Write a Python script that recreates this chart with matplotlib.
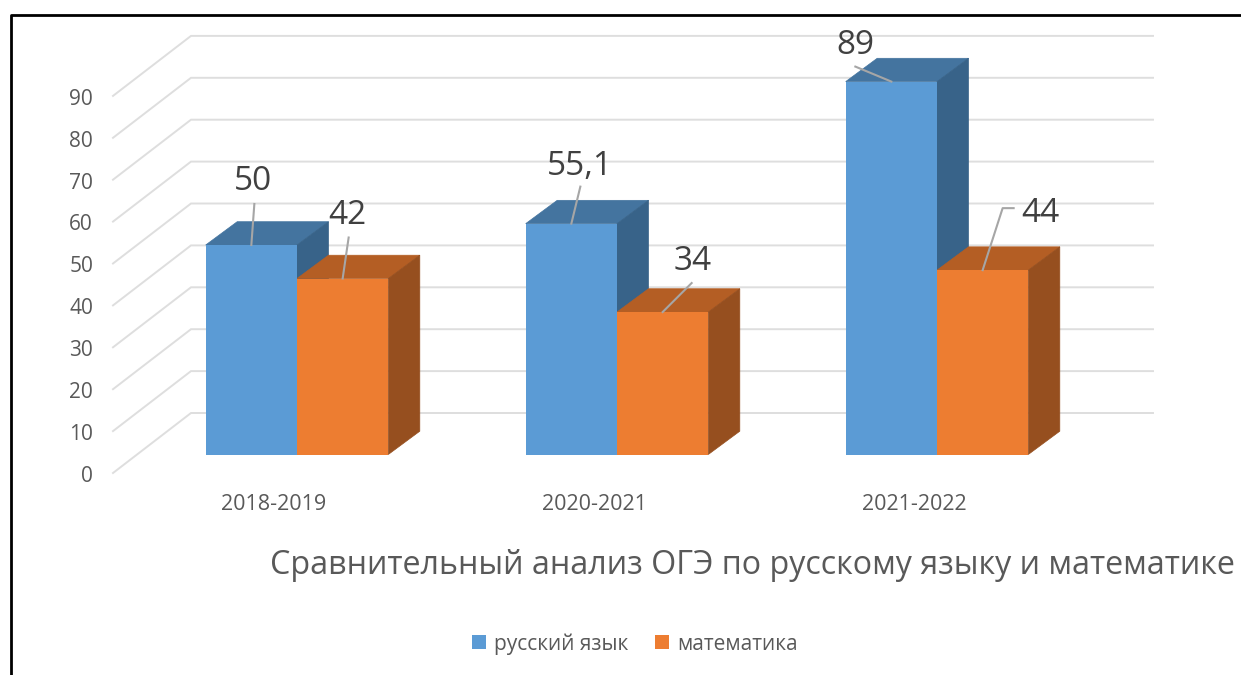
import matplotlib
matplotlib.use('Agg')
import matplotlib.pyplot as plt
from matplotlib.patches import Polygon

plt.rcParams['font.family'] = ['Open Sans', 'DejaVu Sans']

# Data
years = ['2018-2019', '2020-2021', '2021-2022']
russian = [50, 55.1, 89]
math = [42, 34, 44]
russian_labels = ['50', '55,1', '89']
math_labels = ['42', '34', '44']
y_ticks = [0, 10, 20, 30, 40, 50, 60, 70, 80, 90]
series_names = ['русский язык', 'математика']
title = 'Сравнительный анализ ОГЭ по русскому языку и математике'

# Scale: one category = 320 px, one value unit = 4.19 px
px_x = 1 / 320
px_y = 1 / 4.19
bar_w = 91.3 * px_x
depth_x, depth_y = 31.5 * px_x, 23.3 * px_y

fig = plt.figure(figsize=(12.41, 6.75), dpi=100, facecolor='white')
ax = fig.add_axes([0, 0, 1, 1])
ax.set_xlim(-297 * px_x, (1241 - 297) * px_x)
ax.set_ylim(-(675 - 454.5) * px_y, 454.5 * px_y)
ax.axis('off')

# Walls and gridlines of the fake 3D box
back_x0, back_x1 = -106 * px_x, 856 * px_x
back_dy = 41.5 * px_y
front_x = -184 * px_x
front_dy = -18.5 * px_y
for v in y_ticks:
    ax.plot([front_x, back_x0, back_x1], [v + front_dy, v + back_dy, v + back_dy],
            color='#DEDEDE', lw=1.4, zorder=1, solid_joinstyle='miter')
    ax.text(front_x - 20 * px_x, v + front_dy - 0.2, str(v), ha='right', va='center_baseline',
            fontsize=15, color='#595959')


def bar3d(x0, height, front, top, side):
    ax.add_patch(Polygon([(x0, height), (x0 + depth_x, height + depth_y),
                          (x0 + bar_w + depth_x, height + depth_y), (x0 + bar_w, height)],
                         facecolor=top, edgecolor=top, lw=0.5, zorder=3))
    ax.add_patch(Polygon([(x0 + bar_w, 0), (x0 + bar_w + depth_x, depth_y),
                          (x0 + bar_w + depth_x, height + depth_y), (x0 + bar_w, height)],
                         facecolor=side, edgecolor=side, lw=0.5, zorder=3))


blue, orange = '#5B9BD5', '#ED7D31'
handles = []
for i in range(len(years)):
    bar3d(i - bar_w, russian[i], blue, '#44749F', '#386389')
    b1 = ax.bar(i - bar_w / 2, russian[i], bar_w, color=blue, zorder=4)
    bar3d(i, math[i], orange, '#B45E24', '#964F1F')
    b2 = ax.bar(i + bar_w / 2, math[i], bar_w, color=orange, zorder=4)
    if i == 0:
        handles = [b1, b2]

# Leader lines, given as pixel offsets from the bar top, and label offsets
russian_leaders = [[(0, 0), (3, 41)], [(0, 0), (9, 37)], [(0, 0), (-36, 15)]]
math_leaders = [[(0, 0), (6, 41)], [(0, 0), (29, 29)], [(0, 0), (20, 62), (31, 62)]]
russian_text = [(2, 68), (9, 61), (-36, 40)]
math_text = [(5, 67), (30, 55), (58, 61)]


def label(cx, height, leader, offset, text):
    ax.plot([cx + p[0] * px_x for p in leader], [height + p[1] * px_y for p in leader],
            color='#A6A6A6', lw=1.5, zorder=6)
    ax.text(cx + offset[0] * px_x, height + offset[1] * px_y, text, ha='center', va='center_baseline',
            fontsize=24, color='#404040', zorder=7)


for i in range(len(years)):
    label(i - bar_w / 2, russian[i], russian_leaders[i], russian_text[i], russian_labels[i])
    label(i + bar_w / 2, math[i], math_leaders[i], math_text[i], math_labels[i])
    ax.text(i - 23 * px_x, -48 * px_y, years[i], ha='center', va='center_baseline', fontsize=15.5, color='#595959')

ax.text(270 * px_x - 297 * px_x, -107 * px_y, title, ha='left', va='center_baseline', fontsize=23.2, color='#595959')

ax.legend(handles, series_names, loc='center', bbox_to_anchor=(635 / 1241, 1 - 644 / 675), ncol=2, frameon=False,
          fontsize=15, labelcolor='#595959', handlelength=0.65, handleheight=0.65, handletextpad=0.4,
          columnspacing=1.3)

# Screenshot frame: left and top edges only
fig.add_artist(plt.Line2D([10.5 / 1241, 10.5 / 1241, 1], [0, 1 - 14.5 / 675, 1 - 14.5 / 675], color='black', lw=2))

fig.savefig('out.png', dpi=100)
